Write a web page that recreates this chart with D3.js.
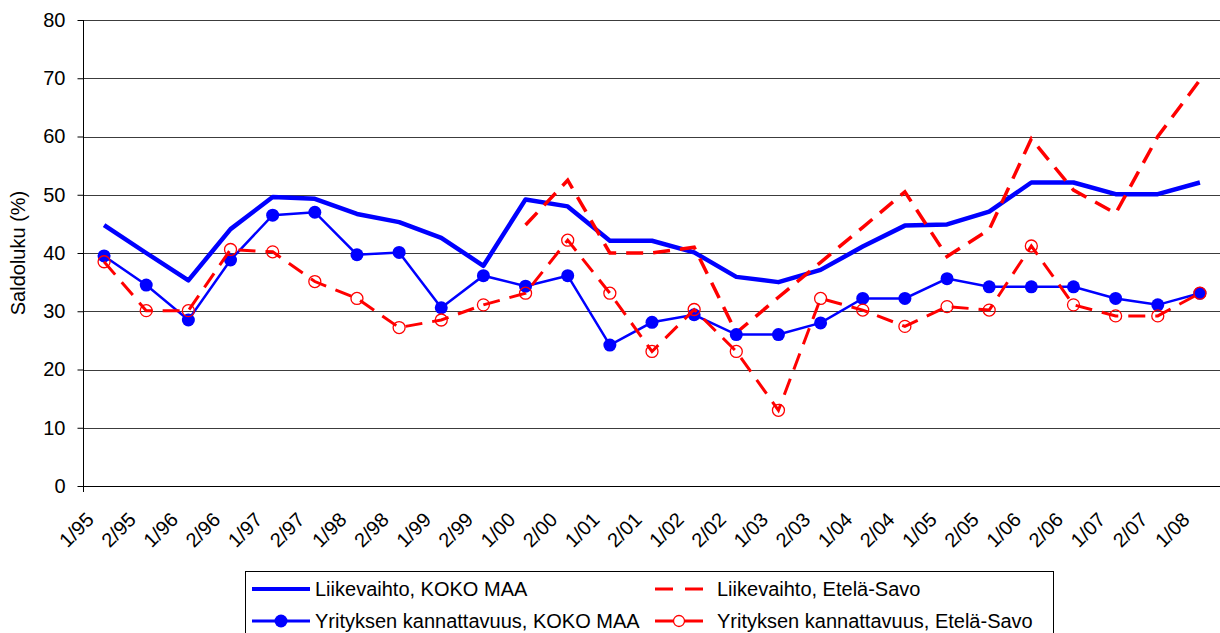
<!DOCTYPE html>
<html>
<head>
<meta charset="utf-8">
<script src="https://cdn.jsdelivr.net/npm/d3@7"></script>
<style>
  body { margin: 0; background: #fff; }
  svg { display: block; font-family: "Liberation Sans", Arial, sans-serif; }
</style>
</head>
<body>
<div id="chart"></div>
<script>
// categories (half-years)
const periods = ["1/95", "2/95", "1/96", "2/96", "1/97", "2/97", "1/98", "2/98", "1/99", "2/99",
  "1/00", "2/00", "1/01", "2/01", "1/02", "2/02", "1/03", "2/03", "1/04", "2/04",
  "1/05", "2/05", "1/06", "2/06", "1/07", "2/07", "1/08"]

const liikevaihtoKoko = [44.8, 40.0, 35.3, 44.1, 49.6, 49.3, 46.7, 45.3, 42.6, 37.8,
  49.2, 48.0, 42.1, 42.1, 40.1, 35.9, 35.0, 37.1, 41.1, 44.7,
  44.9, 47.1, 52.1, 52.1, 50.1, 50.1, 52.1]

const liikevaihtoSavo = [null, null, null, null, null, null, null, null, null, null,
  44.8, 52.5, 40.0, 40.0, 41.0, 26.3, 32.4, 38.4, 44.4, 50.5,
  39.4, 44.0, 59.6, 50.8, 46.8, 60.0, 69.7]

const kannattavuusKoko = [39.5, 34.5, 28.5, 38.8, 46.5, 47.0, 39.7, 40.1, 30.6, 36.1,
  34.3, 36.1, 24.2, 28.1, 29.4, 26.0, 26.0, 28.0, 32.2, 32.2,
  35.6, 34.2, 34.2, 34.2, 32.2, 31.1, 33.1]

const kannattavuusSavo = [38.5, 30.1, 30.1, 40.6, 40.2, 35.1, 32.2, 27.2, 28.5, 31.1,
  33.1, 42.2, 33.1, 23.1, 30.3, 23.1, 13.0, 32.2, 30.2, 27.4,
  30.8, 30.2, 41.2, 31.1, 29.2, 29.2, 33.1]

const yTicks = [0, 10, 20, 30, 40, 50, 60, 70, 80]

const seriesNames = ["Liikevaihto, KOKO MAA", "Liikevaihto, Etelä-Savo",
  "Yrityksen kannattavuus, KOKO MAA", "Yrityksen kannattavuus, Etelä-Savo"]

const width = 1220
const height = 633
const fontSize = 20

const svg = d3.select("#chart")
  .append("svg")
  .attr("width", width)
  .attr("height", height)

const x = d3.scalePoint()
  .domain(periods)
  .range([83, 1221])
  .padding(0.5)

const y = d3.scaleLinear()
  .domain([0, 80])
  .range([486, 20])

// grid lines
svg.append("g")
  .selectAll("line")
  .data(yTicks.filter(d => d > 0))
  .join("line")
  .attr("x1", 83)
  .attr("x2", width)
  .attr("y1", d => Math.round(y(d)) + 0.5)
  .attr("y2", d => Math.round(y(d)) + 0.5)
  .attr("stroke", "#3c3c3c")
  .attr("stroke-width", 1)

// y axis
const yAxis = svg.append("g")
  .attr("transform", "translate(83.5,0)")
  .call(d3.axisLeft(y).tickValues(yTicks).tickSize(6).tickPadding(12))
yAxis.select(".domain").attr("stroke", "#000").attr("d", "M0,20V492")
yAxis.selectAll(".tick line").attr("stroke", "#000")
yAxis.selectAll(".tick text")
  .attr("font-size", fontSize)
  .attr("font-family", "Liberation Sans, Arial, sans-serif")
  .attr("fill", "#000")

// x axis line
svg.append("line")
  .attr("x1", 83)
  .attr("x2", width)
  .attr("y1", Math.round(y(0)) + 0.5)
  .attr("y2", Math.round(y(0)) + 0.5)
  .attr("stroke", "#000")

// x labels, rotated
svg.append("g")
  .selectAll("text")
  .data(periods)
  .join("text")
  .attr("transform", d => "translate(" + (x(d) - 9) + ",521) rotate(-45)")
  .attr("text-anchor", "end")
  .attr("font-size", fontSize)
  .text(d => d)

// y axis title
svg.append("text")
  .attr("transform", "translate(25,253) rotate(-90)")
  .attr("text-anchor", "middle")
  .attr("font-size", fontSize)
  .text("Saldoluku (%)")

const lineGen = d3.line()
  .defined(d => d != null)
  .x((d, i) => x(periods[i]))
  .y(d => y(d))

// Liikevaihto, KOKO MAA
svg.append("path")
  .datum(liikevaihtoKoko)
  .attr("d", lineGen)
  .attr("fill", "none")
  .attr("stroke", "#0000ff")
  .attr("stroke-width", 4.5)
  .attr("stroke-linejoin", "round")

// Liikevaihto, Etelä-Savo
svg.append("path")
  .datum(liikevaihtoSavo)
  .attr("d", lineGen)
  .attr("fill", "none")
  .attr("stroke", "#ff0000")
  .attr("stroke-width", 3.5)
  .attr("stroke-dasharray", "17,10")

// Yrityksen kannattavuus, KOKO MAA
svg.append("path")
  .datum(kannattavuusKoko)
  .attr("d", lineGen)
  .attr("fill", "none")
  .attr("stroke", "#0000ff")
  .attr("stroke-width", 2.5)
svg.append("g")
  .selectAll("circle")
  .data(kannattavuusKoko)
  .join("circle")
  .attr("cx", (d, i) => x(periods[i]))
  .attr("cy", d => y(d))
  .attr("r", 6.5)
  .attr("fill", "#0000ff")

// Yrityksen kannattavuus, Etelä-Savo
svg.append("path")
  .datum(kannattavuusSavo)
  .attr("d", lineGen)
  .attr("fill", "none")
  .attr("stroke", "#ff0000")
  .attr("stroke-width", 3)
  .attr("stroke-dasharray", "17,10")
svg.append("g")
  .selectAll("circle")
  .data(kannattavuusSavo)
  .join("circle")
  .attr("cx", (d, i) => x(periods[i]))
  .attr("cy", d => y(d))
  .attr("r", 6)
  .attr("fill", "none")
  .attr("stroke", "#ff0000")
  .attr("stroke-width", 1.3)

// legend
const legend = svg.append("g")
legend.append("rect")
  .attr("x", 245.5)
  .attr("y", 571.5)
  .attr("width", 808)
  .attr("height", 90)
  .attr("fill", "#fff")
  .attr("stroke", "#000")

const legendPos = [
  { lx: 252, ty: 589 }, { lx: 655, ty: 589 },
  { lx: 252, ty: 621 }, { lx: 655, ty: 621 }
]
const sampleW = [58, 48, 58, 48]

seriesNames.forEach(function (name, i) {
  const p = legendPos[i]
  const red = i % 2 == 1
  const line = legend.append("line")
    .attr("x1", p.lx)
    .attr("x2", p.lx + sampleW[i])
    .attr("y1", p.ty)
    .attr("y2", p.ty)
    .attr("stroke", red ? "#ff0000" : "#0000ff")
    .attr("stroke-width", i == 0 ? 4 : 3)
  if (i == 1) line.attr("stroke-dasharray", "18,12")
  if (i == 2) {
    legend.append("circle")
      .attr("cx", p.lx + sampleW[i] / 2).attr("cy", p.ty).attr("r", 6.5)
      .attr("fill", "#0000ff")
  }
  if (i == 3) {
    legend.append("circle")
      .attr("cx", p.lx + sampleW[i] / 2).attr("cy", p.ty).attr("r", 5.5)
      .attr("fill", "#fff").attr("stroke", "#ff0000").attr("stroke-width", 1.3)
  }
  legend.append("text")
    .attr("x", red ? 717 : 315)
    .attr("y", p.ty + 7)
    .attr("font-size", fontSize)
    .text(name)
})
</script>
</body>
</html>
